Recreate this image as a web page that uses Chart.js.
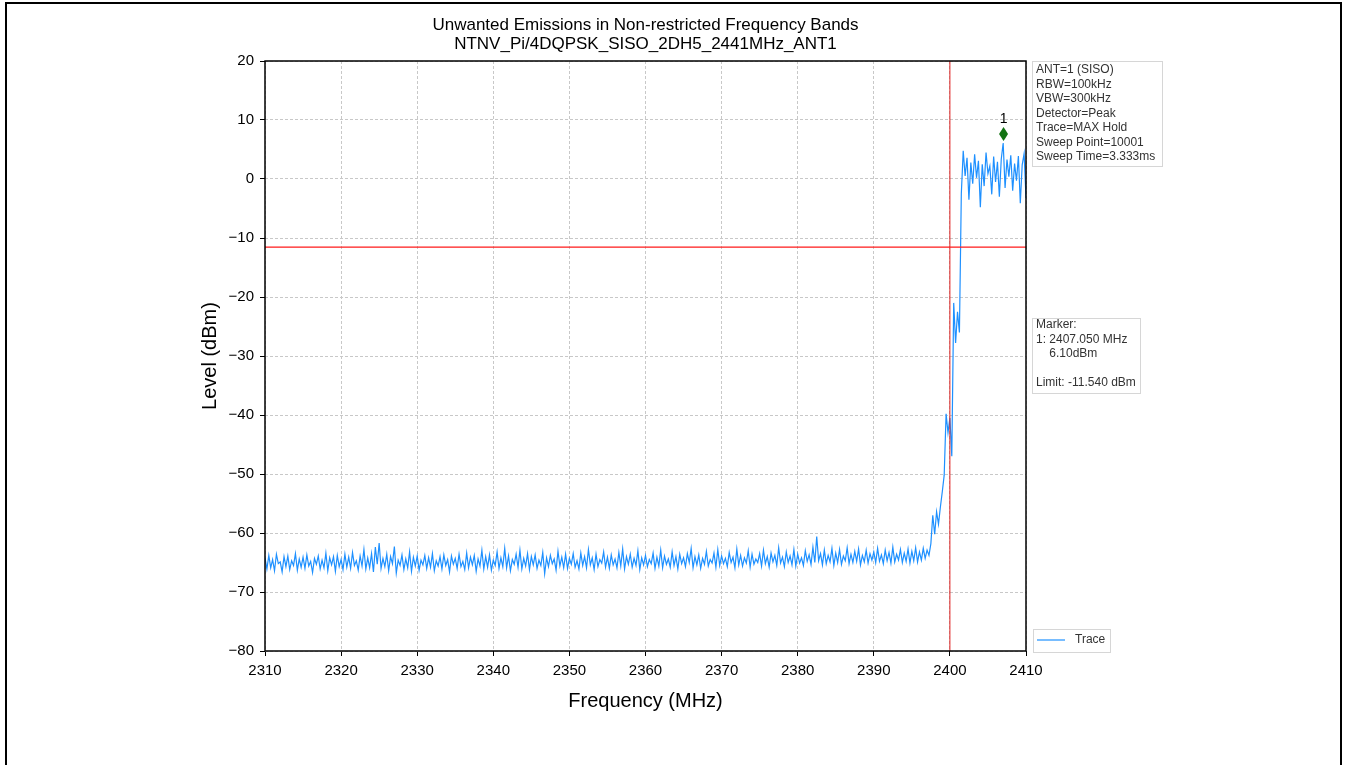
<!DOCTYPE html>
<html>
<head>
<meta charset="utf-8">
<title>Unwanted Emissions</title>
<script src="https://cdn.jsdelivr.net/npm/chart.js@4.4.0/dist/chart.umd.min.js"></script>
<style>
  html, body { margin: 0; padding: 0; background: #fff; }
  canvas { display: block; }
</style>
</head>
<body>
<canvas id="emissionChart" width="1348" height="765"></canvas>
<script>
const titleLines = ['Unwanted Emissions in Non-restricted Frequency Bands', 'NTNV_Pi/4DQPSK_SISO_2DH5_2441MHz_ANT1'];

// trace sampled every 0.25 MHz from 2310 MHz
const freqStart = 2310;
const freqStep = 0.25;

// noise floor, 2310 - 2395.75 MHz
const baselineLevels = [
  -64.2,-66.1,-63.8,-65.9,-64.5,-66.4,-63.6,-65.2,-64.9,-66.6,-64.0,-65.7,-63.9,-66.2,-64.7,-65.5,-63.5,-66.3,-64.4,-65.8,
  -64.1,-66.0,-63.7,-65.6,-64.8,-66.7,-64.3,-65.3,-63.9,-66.1,-64.6,-65.9,-63.4,-66.4,-64.2,-65.4,-64.0,-66.5,-63.8,-65.7,
  -64.5,-66.2,-63.6,-65.8,-64.1,-66.0,-63.3,-65.5,-64.7,-66.3,-63.9,-65.6,-62.8,-66.1,-64.2,-65.9,-63.5,-66.6,-62.4,-65.3,
  -61.7,-66.0,-64.3,-65.7,-63.6,-66.4,-64.0,-65.2,-62.3,-66.8,-64.6,-65.5,-63.7,-66.2,-64.4,-65.9,-63.2,-66.5,-64.1,-65.6,
  -63.9,-66.3,-64.6,-65.4,-63.8,-66.0,-64.2,-65.8,-63.5,-66.4,-64.7,-65.6,-64.0,-66.1,-63.7,-65.5,-64.5,-66.6,-63.9,-65.3,
  -64.3,-66.0,-63.6,-65.7,-64.8,-66.2,-63.4,-65.9,-64.1,-65.4,-63.8,-66.5,-64.4,-65.6,-62.9,-66.1,-64.0,-65.8,-63.7,-66.3,
  -64.6,-65.5,-63.2,-66.0,-64.2,-65.7,-62.6,-65.9,-63.9,-66.4,-64.5,-65.3,-63.6,-65.8,-62.9,-66.1,-64.3,-65.6,-63.5,-66.2,
  -64.0,-65.4,-63.7,-66.0,-64.6,-65.5,-63.3,-66.9,-64.2,-65.7,-63.8,-65.2,-64.4,-66.3,-63.1,-65.6,-64.1,-65.9,-63.6,-66.0,
  -64.3,-65.3,-63.5,-65.8,-64.7,-66.1,-63.4,-65.5,-64.0,-65.9,-62.8,-65.4,-64.2,-66.2,-63.6,-65.7,-64.5,-65.1,-63.2,-65.8,
  -64.1,-66.0,-63.7,-65.4,-64.4,-65.9,-63.3,-65.6,-62.7,-66.1,-64.0,-65.3,-63.6,-65.8,-64.3,-65.5,-63.0,-66.2,-64.2,-65.4,
  -63.8,-65.7,-64.5,-65.2,-63.4,-66.0,-64.1,-65.6,-62.9,-65.9,-63.9,-65.3,-64.4,-65.8,-63.2,-65.5,-64.0,-66.1,-63.6,-65.2,
  -64.2,-65.7,-63.5,-65.0,-62.6,-65.9,-64.0,-65.4,-63.7,-66.0,-64.3,-65.3,-63.1,-65.6,-64.5,-65.1,-63.4,-65.8,-62.8,-65.5,
  -63.9,-65.2,-64.3,-65.7,-63.3,-65.0,-64.1,-65.9,-62.7,-65.4,-63.8,-65.6,-64.2,-65.1,-63.0,-65.8,-63.6,-65.3,-64.4,-65.0,
  -63.5,-65.6,-62.9,-65.2,-64.0,-65.8,-63.4,-64.9,-63.8,-65.5,-62.5,-65.1,-64.1,-65.7,-63.2,-65.0,-63.9,-65.4,-62.8,-65.6,
  -63.6,-65.1,-64.2,-65.5,-63.0,-64.8,-63.7,-65.3,-62.4,-65.0,-60.6,-64.7,-63.5,-65.4,-62.9,-65.2,-63.8,-64.9,-62.6,-65.5,
  -63.4,-65.0,-62.8,-65.3,-63.9,-64.7,-62.5,-65.2,-63.6,-65.0,-63.1,-64.8,-62.7,-65.4,-63.8,-64.9,-62.9,-65.1,-63.5,-64.6,
  -63.2,-65.0,-62.6,-64.8,-63.7,-65.2,-62.9,-64.7,-63.3,-65.1,-62.4,-64.9,-63.6,-64.6,-62.8,-65.0,-63.4,-64.8,-62.7,-65.1,
  -63.1,-64.7,-62.5,-64.9
];

// band edge skirt, 2396 - 2401.5 MHz
const transitionLevels = [
  -63.2,-64.6,-62.6,-64.3,-62.9,-63.8,-61.8,-57.0,-60.2,-56.4,-58.5,-55.6,
  -53.0,-50.2,-39.8,-43.0,-40.5,-47.0,-21.0,-27.8,-22.5,-26.0,-2.5
];

// in-band, 2401.75 - 2410 MHz
const plateauLevels = [
  4.8,0.5,3.6,-3.5,2.8,-0.8,4.2,0.2,3.1,-4.8,
  2.5,-1.2,4.5,0.9,2.2,-2.6,3.8,-0.5,2.9,-3.0,
  3.4,6.1,-1.5,3.3,0.4,4.0,-2.0,2.6,-0.3,3.9,
  -4.1,2.4,4.3,-3.2
];

const limitLevel = -11.54;
const bandEdge = 2400;
const markerFreq = 2407.05;
const markerLevel = 6.10;

const xTicks = [2310, 2320, 2330, 2340, 2350, 2360, 2370, 2380, 2390, 2400, 2410];
const yTicks = [-80, -70, -60, -50, -40, -30, -20, -10, 0, 10, 20];

const infoLines = ['ANT=1 (SISO)', 'RBW=100kHz', 'VBW=300kHz', 'Detector=Peak', 'Trace=MAX Hold', 'Sweep Point=10001', 'Sweep Time=3.333ms'];
const markerLines = ['Marker:', '1: 2407.050 MHz', '    6.10dBm', '', 'Limit: -11.540 dBm'];

const FONT = '"Liberation Sans", Arial, sans-serif';

const traceLevels = baselineLevels.concat(transitionLevels, plateauLevels);
const traceData = traceLevels.map((v, i) => ({ x: freqStart + i * freqStep, y: v }));

function drawTextBox(ctx, left, top, w, h, lines, firstY) {
  ctx.fillStyle = 'rgba(255,255,255,0.85)';
  ctx.fillRect(left, top, w, h);
  ctx.strokeStyle = '#d6d6d6';
  ctx.lineWidth = 1;
  ctx.strokeRect(left + 0.5, top + 0.5, w, h);
  ctx.fillStyle = '#333';
  ctx.font = '12px ' + FONT;
  ctx.textAlign = 'left';
  ctx.textBaseline = 'middle';
  lines.forEach((t, i) => ctx.fillText(t, left + 4, firstY + i * 14.5));
}

const extras = {
  id: 'extras',
  afterDraw(chart) {
    const { ctx, chartArea: a, scales: { x, y } } = chart;
    ctx.save();

    // page frame
    ctx.strokeStyle = '#000';
    ctx.lineWidth = 2;
    ctx.strokeRect(6, 3, 1335, 800);

    // axes box
    ctx.lineWidth = 1.5;
    ctx.strokeRect(a.left, a.top, a.right - a.left, a.bottom - a.top);

    // title
    ctx.fillStyle = '#000';
    ctx.font = '17px ' + FONT;
    ctx.textAlign = 'center';
    ctx.textBaseline = 'middle';
    const cx = (a.left + a.right) / 2;
    titleLines.forEach((t, i) => ctx.fillText(t, cx, 25 + i * 19));

    // marker 1
    const mx = x.getPixelForValue(markerFreq);
    const my = y.getPixelForValue(markerLevel) - 9;
    ctx.fillStyle = '#137313';
    ctx.beginPath();
    ctx.moveTo(mx, my - 7);
    ctx.lineTo(mx + 4.5, my);
    ctx.lineTo(mx, my + 7);
    ctx.lineTo(mx - 4.5, my);
    ctx.closePath();
    ctx.fill();
    ctx.fillStyle = '#000';
    ctx.font = '14px ' + FONT;
    ctx.textAlign = 'center';
    ctx.fillText('1', mx, my - 15);

    // side boxes
    drawTextBox(ctx, a.right + 6, 61, 130, 105, infoLines, 70);
    drawTextBox(ctx, a.right + 6, 318, 108, 75, markerLines, 325);

    // legend
    const lx = a.right + 7;
    ctx.fillStyle = '#fff';
    ctx.fillRect(lx, 629, 77, 23);
    ctx.strokeStyle = '#d6d6d6';
    ctx.lineWidth = 1;
    ctx.strokeRect(lx + 0.5, 629.5, 77, 23);
    ctx.strokeStyle = '#1e90ff';
    ctx.lineWidth = 1.2;
    ctx.beginPath();
    ctx.moveTo(lx + 4, 640);
    ctx.lineTo(lx + 32, 640);
    ctx.stroke();
    ctx.fillStyle = '#333';
    ctx.font = '12px ' + FONT;
    ctx.textAlign = 'left';
    ctx.fillText('Trace', lx + 42, 640);

    ctx.restore();
  }
};

// matplotlib style minus sign, no thousands separator
const tickText = v => String(v).replace('-', '\u2212');

const ctx = document.getElementById('emissionChart').getContext('2d');
const emissionChart = new Chart(ctx, {
  type: 'line',
  data: {
    datasets: [
      {
        label: 'Trace',
        data: traceData,
        borderColor: '#1e90ff',
        borderWidth: 1.2,
        pointRadius: 0,
        tension: 0,
        order: 2
      },
      {
        label: 'Limit',
        data: [{ x: xTicks[0], y: limitLevel }, { x: xTicks[xTicks.length - 1], y: limitLevel }],
        borderColor: '#ff1a1a',
        borderWidth: 1.2,
        pointRadius: 0,
        order: 1
      },
      {
        label: 'Band edge',
        data: [{ x: bandEdge, y: yTicks[0] }, { x: bandEdge, y: yTicks[yTicks.length - 1] }],
        borderColor: '#e02020',
        borderWidth: 1,
        pointRadius: 0,
        order: 1
      }
    ]
  },
  options: {
    responsive: false,
    animation: false,
    devicePixelRatio: 1,
    layout: { padding: { left: 194, right: 322, top: 61, bottom: 48 } },
    plugins: {
      legend: { display: false },
      tooltip: { enabled: false },
      title: { display: false }
    },
    scales: {
      x: {
        type: 'linear',
        min: xTicks[0],
        max: xTicks[xTicks.length - 1],
        afterBuildTicks: s => { s.ticks = xTicks.map(v => ({ value: v })); },
        afterFit: s => { s.height = 66; },
        ticks: { color: '#000', font: { family: FONT, size: 15 }, padding: 6, maxRotation: 0, callback: tickText },
        grid: { color: '#c8c8c8', lineWidth: 1, tickLength: 5, tickColor: '#000', tickWidth: 1, tickBorderDash: [] },
        border: { display: false, dash: [3, 2] },
        title: { display: true, text: 'Frequency (MHz)', color: '#000', font: { family: FONT, size: 20 }, padding: { top: 4, bottom: 4 } }
      },
      y: {
        min: yTicks[0],
        max: yTicks[yTicks.length - 1],
        afterBuildTicks: s => { s.ticks = yTicks.map(v => ({ value: v })); },
        afterFit: s => { s.width = 71; },
        ticks: { color: '#000', font: { family: FONT, size: 15 }, padding: 6, callback: tickText },
        grid: { color: '#c8c8c8', lineWidth: 1, tickLength: 5, tickColor: '#000', tickWidth: 1, tickBorderDash: [] },
        border: { display: false, dash: [3, 2] },
        title: { display: true, text: 'Level (dBm)', color: '#000', font: { family: FONT, size: 20 }, padding: { top: 4, bottom: 4 } }
      }
    }
  },
  plugins: [extras]
});
</script>
</body>
</html>
